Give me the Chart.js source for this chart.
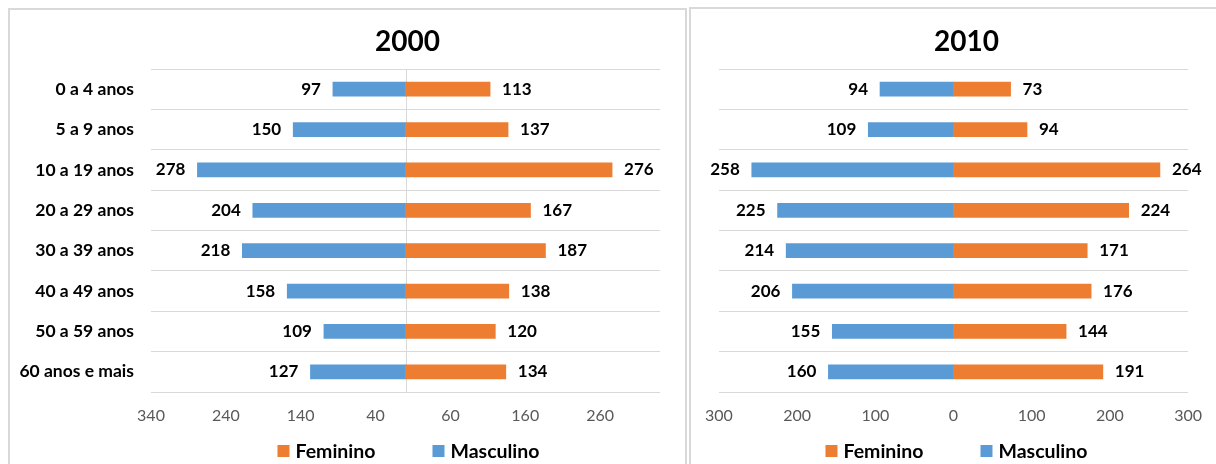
<!DOCTYPE html>
<html lang="pt">
<head>
<meta charset="utf-8">
<title>População por faixa etária e sexo — 2000 e 2010</title>
<script src="https://cdn.jsdelivr.net/npm/chart.js@4.4.1/dist/chart.umd.min.js"></script>
<style>
  html, body { margin: 0; padding: 0; background: #fff; }
  body { width: 1216px; height: 464px; overflow: hidden; position: relative; font-family: Lato, sans-serif; }
  .panel { position: absolute; border: 2px solid #d9d9d9; box-sizing: border-box; background: #fff; }
  .panel-2000 { left: 8px; top: 8px; width: 679px; height: 480px; }
  .panel-2010 { left: 689px; top: 7px; width: 560px; height: 480px; }
  .panel canvas { position: absolute; left: 0; top: 0; }
</style>
</head>
<body>
<div class="panel panel-2000"><canvas id="pyramid2000" width="674" height="454"></canvas></div>
<div class="panel panel-2010"><canvas id="pyramid2010" width="525" height="455"></canvas></div>
<script>
const ageGroups = ['0 a 4 anos', '5 a 9 anos', '10 a 19 anos', '20 a 29 anos', '30 a 39 anos', '40 a 49 anos', '50 a 59 anos', '60 anos e mais'];
const feminino2000 = [113, 137, 276, 167, 187, 138, 120, 134];
const masculino2000 = [97, 150, 278, 204, 218, 158, 109, 127];
const feminino2010 = [73, 94, 264, 224, 171, 176, 144, 191];
const masculino2010 = [94, 109, 258, 225, 214, 206, 155, 160];
const ticks2000 = [-340, -240, -140, -40, 60, 160, 260];
const ticks2010 = [-300, -200, -100, 0, 100, 200, 300];

const orange = '#ED7D31';
const blue = '#5B9BD5';
const fontFamily = 'Lato, "Open Sans", sans-serif';

// title, centre line, value labels and legend are drawn here (Excel-like placement)
const pyramidDecor = {
  id: 'pyramidDecor',
  beforeDatasetsDraw(chart, args, opts) {
    if (!opts.centerLine) return;
    const { ctx, chartArea } = chart;
    const x = Math.round(chart.scales.x.getPixelForValue(0)) + 0.5;
    ctx.save();
    ctx.strokeStyle = '#d9d9d9';
    ctx.lineWidth = 1;
    ctx.beginPath();
    ctx.moveTo(x, chartArea.top);
    ctx.lineTo(x, chartArea.bottom);
    ctx.stroke();
    ctx.restore();
  },
  afterDatasetsDraw(chart) {
    const { ctx } = chart;
    ctx.save();
    ctx.font = `bold 17px ${fontFamily}`;
    ctx.fillStyle = '#000';
    ctx.textBaseline = 'middle';
    chart.data.datasets.forEach((ds, i) => {
      chart.getDatasetMeta(i).data.forEach((bar, j) => {
        const v = ds.data[j];
        ctx.textAlign = v < 0 ? 'right' : 'left';
        ctx.fillText(String(Math.abs(v)), bar.x + (v < 0 ? -12 : 12), bar.y);
      });
    });
    ctx.restore();
  },
  afterDraw(chart, args, opts) {
    const { ctx, chartArea } = chart;
    const mid = (chartArea.left + chartArea.right) / 2;
    ctx.save();
    ctx.fillStyle = '#000';
    ctx.textBaseline = 'middle';
    ctx.textAlign = 'center';
    ctx.font = `bold 28px ${fontFamily}`;
    ctx.fillText(opts.title, mid + opts.titleDx, chartArea.top - 27);

    ctx.font = `bold 19.5px ${fontFamily}`;
    ctx.textAlign = 'left';
    const box = 12, boxGap = 6, itemGap = 57;
    const items = chart.data.datasets.map((ds) => ({ text: ds.label, color: ds.backgroundColor, w: ctx.measureText(ds.label).width }));
    const total = items.reduce((s, it) => s + box + boxGap + it.w, 0) + itemGap * (items.length - 1);
    let x = mid + 3 - total / 2;
    const y = chartArea.bottom + 59;
    items.forEach((it) => {
      ctx.fillStyle = it.color;
      ctx.fillRect(x, y - box / 2, box, box);
      ctx.fillStyle = '#000';
      ctx.fillText(it.text, x + box + boxGap, y + 1);
      x += box + boxGap + it.w + itemGap;
    });
    ctx.restore();
  }
};

function makePyramid(canvas, cfg) {
  return new Chart(canvas, {
    type: 'bar',
    data: {
      labels: ageGroups,
      datasets: [
        { label: 'Feminino', data: cfg.fem, backgroundColor: orange, barThickness: 14, borderWidth: 0 },
        { label: 'Masculino', data: cfg.masc.map((v) => -v), backgroundColor: blue, barThickness: 14, borderWidth: 0 }
      ]
    },
    plugins: [pyramidDecor],
    options: {
      indexAxis: 'y',
      responsive: false,
      animation: false,
      layout: { padding: { left: cfg.padLeft, right: 24, top: cfg.padTop, bottom: 42 } },
      plugins: {
        legend: { display: false },
        tooltip: { enabled: false },
        pyramidDecor: { title: cfg.title, titleDx: cfg.titleDx, centerLine: cfg.centerLine }
      },
      scales: {
        x: {
          type: 'linear',
          stacked: true,
          min: cfg.min,
          max: cfg.max,
          grid: { display: false, drawTicks: false },
          border: { display: false },
          afterBuildTicks: (scale) => { scale.ticks = cfg.ticks.map((value) => ({ value })); },
          afterFit: (scale) => { scale.height = 30; },
          ticks: {
            autoSkip: false,
            maxRotation: 0,
            padding: 14,
            color: '#595959',
            font: { family: fontFamily, size: 16 },
            callback: (value) => Math.abs(value)
          }
        },
        y: {
          stacked: true,
          grid: { color: '#d9d9d9', offset: true, drawTicks: false },
          border: { display: false },
          afterFit: (scale) => { scale.width = cfg.yWidth; },
          ticks: {
            display: cfg.showCategories,
            padding: 17,
            color: '#000',
            font: { family: fontFamily, size: 17.5, weight: 'bold' }
          }
        }
      }
    }
  });
}

makePyramid(document.getElementById('pyramid2000'), {
  fem: feminino2000, masc: masculino2000, ticks: ticks2000, min: -340, max: 340,
  title: '2000', titleDx: 2, centerLine: true, showCategories: true, yWidth: 141, padLeft: 0, padTop: 59
});
makePyramid(document.getElementById('pyramid2010'), {
  fem: feminino2010, masc: masculino2010, ticks: ticks2010, min: -300, max: 300,
  title: '2010', titleDx: 13, centerLine: false, showCategories: false, yWidth: 0, padLeft: 25, padTop: 60
});
</script>
</body>
</html>
